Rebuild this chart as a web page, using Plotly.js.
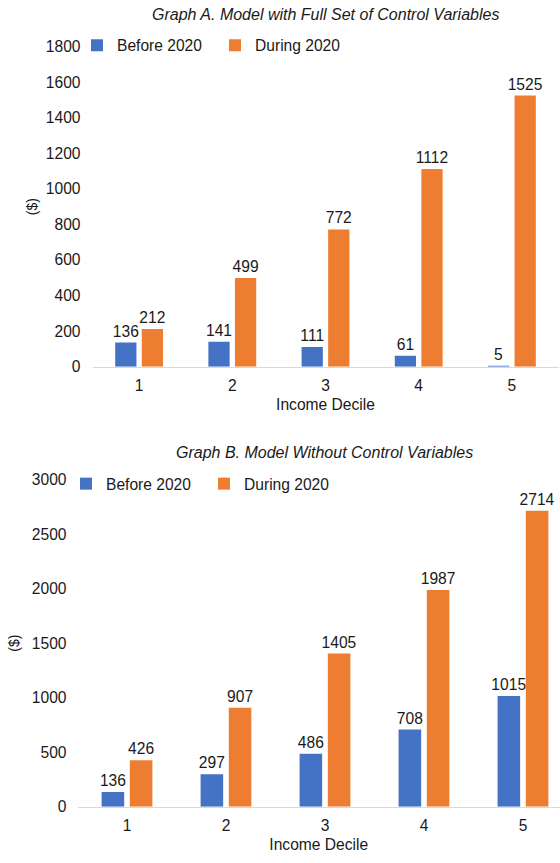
<!DOCTYPE html>
<html><head><meta charset="utf-8">
<script src="https://cdn.plot.ly/plotly-3.0.1.min.js"></script>
<style>html,body{margin:0;padding:0;background:#fff}</style>
</head><body><div id="chart" style="width:560px;height:863px"></div>
<script>
const deciles = ['1', '2', '3', '4', '5'];
const seriesNames = ['Before 2020', 'During 2020'];
const beforeA = [136, 141, 111, 61, 5];
const duringA = [212, 499, 772, 1112, 1525];
const beforeB = [136, 297, 486, 708, 1015];
const duringB = [426, 907, 1405, 1987, 2714];
const titleA = 'Graph A. Model with Full Set of Control Variables';
const titleB = 'Graph B. Model Without Control Variables';
const xTitle = 'Income Decile';
const yTitle = '($)';

const colors = ['#4472C4', '#ED7D31'];
const FONT = 'Liberation Sans, Arial, Helvetica, sans-serif';
const TXT = '#1a1a1a';
const H = 863, W = 560;

function bar(y, name, color, xa, ya, leg) {
  return {
    type: 'bar', x: deciles, y: y, name: name, xaxis: xa, yaxis: ya, legend: leg,
    marker: {color: color},
    text: y.map(String), textposition: 'outside', cliponaxis: false, constraintext: 'none',
    textfont: {family: FONT, size: 15.6, color: TXT},
    hoverinfo: 'skip'
  };
}

const data = [
  bar(beforeA, seriesNames[0], colors[0], 'x', 'y', 'legend'),
  bar(duringA, seriesNames[1], colors[1], 'x', 'y', 'legend'),
  bar(beforeB, seriesNames[0], colors[0], 'x2', 'y2', 'legend2'),
  bar(duringB, seriesNames[1], colors[1], 'x2', 'y2', 'legend2')
];

const tickFont = {family: FONT, size: 15.6, color: TXT};
function xaxis(domain, range) {
  return {
    domain: domain, type: 'category', range: range, fixedrange: true,
    showline: true, linecolor: '#d9d9d9', linewidth: 1.5, showgrid: false, zeroline: false,
    ticks: '', tickfont: tickFont, ticklabelstandoff: 4,
    title: {text: xTitle, font: {family: FONT, size: 15.6, color: TXT}, standoff: 6}
  };
}
function yaxis(domain, range, dtick, anchor, standoff, labelStandoff) {
  return {
    domain: domain, range: range, dtick: dtick, tick0: 0, anchor: anchor, fixedrange: true,
    showline: false, showgrid: false, zeroline: false, ticks: '',
    tickfont: tickFont, ticklabelstandoff: labelStandoff,
    title: {text: yTitle, font: {family: FONT, size: 14, color: TXT}, standoff: standoff}
  };
}
const py = v => (H - v) / H;
const px = v => v / W;

const legendFont = {family: FONT, size: 15.6, color: TXT};
const layout = {
  width: W, height: H,
  margin: {l: 0, r: 0, t: 0, b: 0},
  paper_bgcolor: '#fff', plot_bgcolor: '#fff',
  font: {family: FONT, color: TXT},
  barmode: 'group', bargap: 0.43, bargroupgap: 0.2,
  xaxis: Object.assign(xaxis([px(92.5), px(558.5)], [-0.5, 4.5]), {anchor: 'y'}),
  yaxis: yaxis([py(366.7), py(46.7)], [0, 1800], 200, 'x', 4, 11),
  xaxis2: Object.assign(xaxis([px(77.5), 1], [-0.5, 4.374]), {anchor: 'y2'}),
  yaxis2: yaxis([py(806.7), py(479.7)], [0, 3000], 500, 'x2', 8, 10),
  legend: {orientation: 'h', x: px(77), xanchor: 'left', y: py(45.7), yanchor: 'middle',
           entrywidth: 93, entrywidthmode: 'pixels',
           font: legendFont, bgcolor: 'rgba(0,0,0,0)'},
  legend2: {orientation: 'h', x: px(66), xanchor: 'left', y: py(484), yanchor: 'middle',
           entrywidth: 93, entrywidthmode: 'pixels',
           font: legendFont, bgcolor: 'rgba(0,0,0,0)'},
  annotations: [
    {text: titleA, xref: 'paper', yref: 'paper', x: px(325), y: py(14), xanchor: 'center', yanchor: 'middle',
     showarrow: false, font: {family: FONT, size: 16, color: TXT, style: 'italic'}},
    {text: titleB, xref: 'paper', yref: 'paper', x: px(324), y: py(453), xanchor: 'center', yanchor: 'middle',
     showarrow: false, font: {family: FONT, size: 16, color: TXT, style: 'italic'}}
  ]
};

Plotly.newPlot('chart', data, layout, {displayModeBar: false, staticPlot: true});
</script></body></html>
